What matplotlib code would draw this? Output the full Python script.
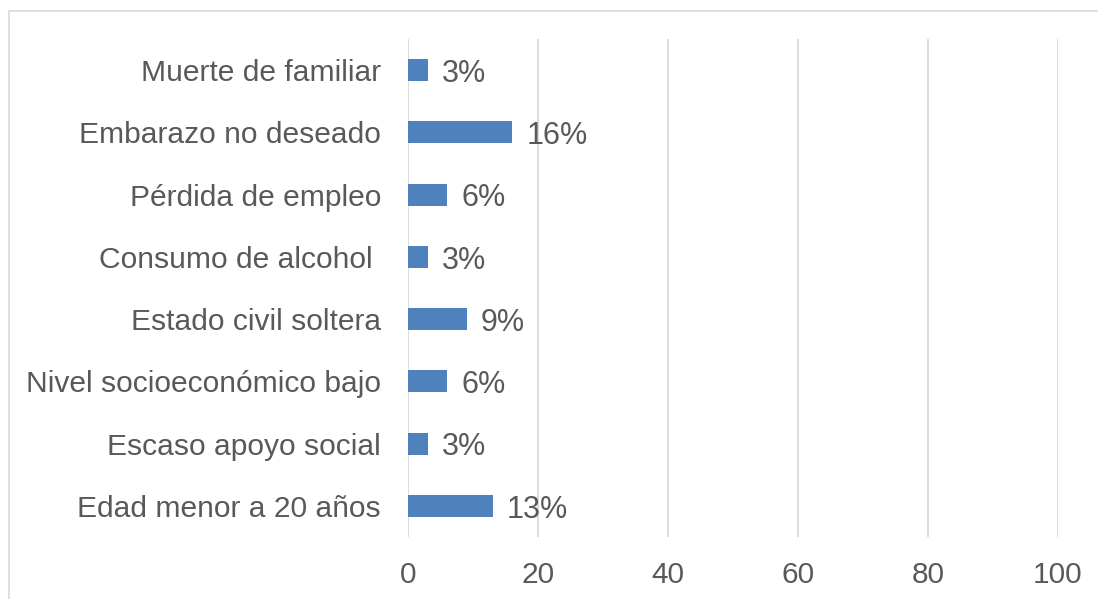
import matplotlib
matplotlib.use("Agg")
from matplotlib import pyplot as plt
from matplotlib.patches import Rectangle

categories = ["Edad menor a 20 años", "Escaso apoyo social", "Nivel socioeconómico bajo",
              "Estado civil soltera", "Consumo de alcohol ", "Pérdida de empleo",
              "Embarazo no deseado", "Muerte de familiar"]
values = [13, 3, 6, 9, 3, 6, 16, 3]
xticks = [0, 20, 40, 60, 80, 100]

plt.rcParams['font.family'] = ['Liberation Sans', 'DejaVu Sans']
grey = '#595959'

fig = plt.figure(figsize=(10.98, 5.99), dpi=100)
ax = fig.add_axes([408 / 1098, 1 - 537 / 599, 650 / 1098, 498 / 599])

# outer chart border (cut off on the right and bottom)
fig.patches.append(Rectangle((9 / 1098, -0.1), 1.2, 1 - 11 / 599 + 0.1,
                             transform=fig.transFigure, fill=False,
                             edgecolor='#d9d9d9', linewidth=1.2))

pos = list(range(len(categories)))
ax.barh(pos, values, height=0.35, color='#4f81bd', zorder=3)
for p, v in zip(pos, values):
    ax.text(v + 2.2, p - 0.06, f"{v}%", va='center', ha='left', fontsize=22, color=grey)

ax.set_xlim(0, 100)
ax.set_ylim(-0.5, len(categories) - 0.5)
ax.set_xticks(xticks)
ax.set_yticks(pos)
ax.set_yticklabels(categories)
ax.tick_params(axis='x', labelsize=21.5, colors=grey, length=0, pad=17)
ax.tick_params(axis='y', labelsize=21.6, colors=grey, length=0, pad=19.5)
ax.grid(axis='x', color='#d9d9d9', linewidth=1.3, zorder=0)
for s in ax.spines.values():
    s.set_visible(False)

fig.savefig("out.png", dpi=100)
